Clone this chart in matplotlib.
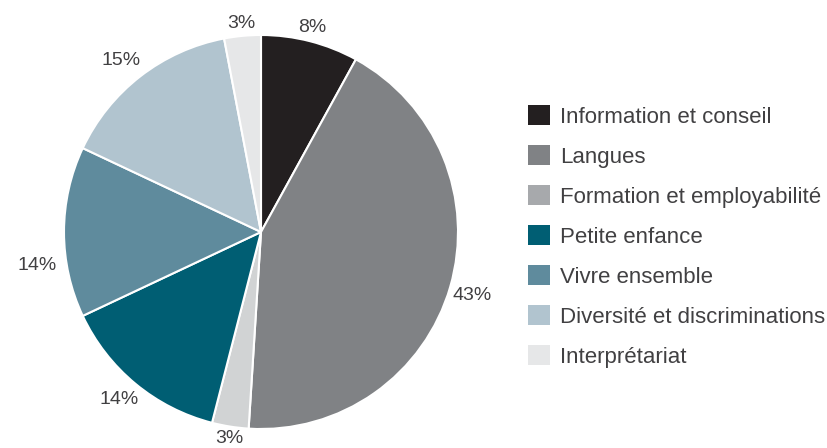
import matplotlib.pyplot as plt
from matplotlib.patches import Patch

plt.rcParams['font.family'] = ['Liberation Sans', 'DejaVu Sans']

categories = ['Information et conseil', 'Langues', 'Formation et employabilité',
              'Petite enfance', 'Vivre ensemble', 'Diversité et discriminations',
              'Interprétariat']
shares = [8, 43, 3, 14, 14, 15, 3]
slice_colors = ['#231f20', '#808285', '#d1d3d4', '#005e73', '#5f8b9d', '#b1c4cf', '#e6e7e8']
legend_colors = ['#231f20', '#808285', '#a7a9ac', '#005e73', '#5f8b9d', '#b1c4cf', '#e6e7e8']
text_color = '#414042'

# where each percentage label sits, in units of the pie radius
label_pos = [(0.26, 1.04), (1.07, -0.32), (-0.16, -1.05), (-0.72, -0.85),
             (-1.135, -0.17), (-0.71, 0.87), (-0.10, 1.06)]

fig = plt.figure(figsize=(8.27, 4.48), dpi=100)
ax = fig.add_axes([64 / 827, 19 / 448, 394 / 827, 394 / 448])

ax.pie(shares, colors=slice_colors, startangle=90, counterclock=False, radius=1,
       wedgeprops=dict(edgecolor='white', linewidth=1.5))
for v, (x, y) in zip(shares, label_pos):
    ax.text(x, y, f'{v}%', ha='center', va='center', fontsize=14, color=text_color)

ax.set_xlim(-1, 1)
ax.set_ylim(-1, 1)
ax.set_aspect('equal')
ax.axis('off')

handles = [Patch(facecolor=c, edgecolor='none') for c in legend_colors]
fig.legend(handles, categories, loc='upper left',
           bbox_to_anchor=(528 / 827, 1 - 105 / 448), frameon=False,
           fontsize=16, labelcolor=text_color, handlelength=1.0, handleheight=1.0,
           handletextpad=0.45, labelspacing=0.785, borderpad=0, borderaxespad=0)

fig.savefig('out.png', dpi=100)
